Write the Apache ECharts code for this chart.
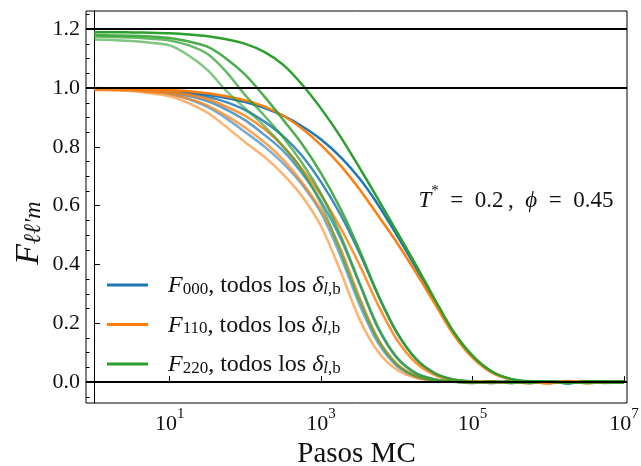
<!DOCTYPE html>
<html>
<head>
<meta charset="utf-8">
<script src="https://cdn.jsdelivr.net/npm/echarts@6/dist/echarts.min.js"></script>
<style>
  html, body { margin: 0; padding: 0; background: #fff; }
  #chart { width: 641px; height: 466px; }
</style>
</head>
<body>
<div id="chart"></div>
<script>
// Monte Carlo steps at which the correlation functions are sampled (quarter decades)
const pasosMC = [1, 1.8, 3.2, 5.6, 10, 18, 32, 56, 100, 180, 320, 560, 1000, 1800, 3200, 5600,
  1e4, 1.8e4, 3.2e4, 5.6e4, 1e5, 1.8e5, 3.2e5, 5.6e5, 1e6, 1.8e6, 3.2e6, 5.6e6, 1e7];

// F000 for the four delta values (slowest first)
const f000_d1 = [0.998, 0.997, 0.995, 0.992, 0.989, 0.984, 0.976, 0.966, 0.952, 0.932, 0.905, 0.870, 0.825, 0.766, 0.693, 0.605, 0.500, 0.388, 0.272, 0.168, 0.087, 0.035, 0.010, 0.002, 0.003, -0.004, 0.003, -0.002, 0.002];
const f000_d2 = [0.999, 0.998, 0.997, 0.994, 0.990, 0.982, 0.970, 0.952, 0.925, 0.885, 0.835, 0.770, 0.680, 0.570, 0.440, 0.298, 0.168, 0.078, 0.029, 0.009, 0.002, -0.003, 0.004, -0.002, 0.003, -0.004, 0.002, 0.003, -0.001];
const f000_d3 = [0.998, 0.997, 0.995, 0.991, 0.985, 0.973, 0.955, 0.927, 0.890, 0.840, 0.785, 0.710, 0.615, 0.490, 0.335, 0.185, 0.082, 0.030, 0.009, 0.002, -0.003, 0.003, -0.002, 0.004, -0.003, 0.002, -0.002, 0.003, 0.001];
const f000_d4 = [0.996, 0.995, 0.993, 0.988, 0.980, 0.962, 0.935, 0.897, 0.850, 0.800, 0.742, 0.672, 0.575, 0.430, 0.265, 0.135, 0.055, 0.018, 0.005, 0.001, 0.003, -0.002, 0.002, -0.003, 0.002, -0.003, 0.003, 0.001, -0.002];

// F110
const f110_d1 = [1.000, 0.999, 0.998, 0.996, 0.993, 0.989, 0.982, 0.972, 0.958, 0.937, 0.905, 0.862, 0.806, 0.737, 0.657, 0.568, 0.475, 0.372, 0.265, 0.163, 0.083, 0.032, 0.009, 0.001, -0.003, 0.004, -0.004, 0.002, -0.002];
const f110_d2 = [0.998, 0.997, 0.995, 0.992, 0.987, 0.977, 0.962, 0.937, 0.905, 0.860, 0.800, 0.725, 0.635, 0.525, 0.400, 0.265, 0.145, 0.065, 0.024, 0.007, 0.001, 0.003, -0.003, 0.002, -0.004, 0.002, 0.004, -0.002, 0.001];
const f110_d3 = [0.995, 0.994, 0.992, 0.987, 0.980, 0.963, 0.940, 0.906, 0.865, 0.815, 0.755, 0.680, 0.585, 0.455, 0.290, 0.150, 0.063, 0.022, 0.006, 0.001, 0.003, -0.003, 0.002, -0.004, 0.003, -0.002, 0.003, -0.001, 0.002];
const f110_d4 = [0.993, 0.992, 0.990, 0.982, 0.972, 0.948, 0.915, 0.868, 0.815, 0.765, 0.705, 0.632, 0.530, 0.378, 0.215, 0.105, 0.042, 0.014, 0.004, 0.002, -0.003, 0.003, -0.002, 0.002, -0.004, 0.003, -0.002, 0.002, 0.001];

// F220
const f220_d1 = [1.190, 1.190, 1.189, 1.188, 1.186, 1.182, 1.176, 1.166, 1.150, 1.122, 1.078, 1.012, 0.930, 0.835, 0.730, 0.624, 0.512, 0.397, 0.280, 0.172, 0.090, 0.036, 0.011, 0.003, 0.001, -0.003, 0.003, 0.001, -0.002];
const f220_d2 = [1.180, 1.179, 1.178, 1.175, 1.170, 1.158, 1.140, 1.100, 1.045, 0.970, 0.890, 0.810, 0.710, 0.590, 0.450, 0.300, 0.170, 0.078, 0.030, 0.009, 0.002, -0.002, 0.003, -0.003, 0.002, 0.001, -0.003, 0.002, 0.003];
const f220_d3 = [1.175, 1.174, 1.172, 1.168, 1.162, 1.145, 1.115, 1.055, 0.975, 0.905, 0.830, 0.745, 0.640, 0.500, 0.340, 0.190, 0.085, 0.030, 0.009, 0.002, -0.002, 0.003, -0.003, 0.002, 0.003, -0.002, 0.002, -0.003, 0.001];
const f220_d4 = [1.165, 1.163, 1.160, 1.154, 1.145, 1.110, 1.060, 0.990, 0.930, 0.870, 0.800, 0.720, 0.605, 0.445, 0.280, 0.145, 0.060, 0.020, 0.005, 0.001, -0.002, 0.003, -0.003, 0.002, 0.001, -0.003, 0.002, 0.003, -0.002];

// Axis ticks
const xTickExponents = [1, 3, 5, 7];
const yTicks = [0.0, 0.2, 0.4, 0.6, 0.8, 1.0, 1.2];
const yMinorTicks = [-0.05, 0.05, 0.1, 0.15, 0.25, 0.3, 0.35, 0.45, 0.5, 0.55, 0.65, 0.7, 0.75,
  0.85, 0.9, 0.95, 1.05, 1.1, 1.15, 1.25];

// Reference levels drawn as horizontal black lines
const refLevels = [0.0, 1.0, 1.2];

const SERIF = "'Liberation Serif', 'DejaVu Serif', serif";
const INK = '#111';
const COLORS = { F000: '#1f77b4', F110: '#ff7f0e', F220: '#2ca02c' };
const SHADE = [1, 0.85, 0.72, 0.6];

const curves = [
  { name: 'F000', vals: f000_d1, shade: 0 },
  { name: 'F000 d2', vals: f000_d2, shade: 1, key: 'F000' },
  { name: 'F000 d3', vals: f000_d3, shade: 2, key: 'F000' },
  { name: 'F000 d4', vals: f000_d4, shade: 3, key: 'F000' },
  { name: 'F110', vals: f110_d1, shade: 0 },
  { name: 'F110 d2', vals: f110_d2, shade: 1, key: 'F110' },
  { name: 'F110 d3', vals: f110_d3, shade: 2, key: 'F110' },
  { name: 'F110 d4', vals: f110_d4, shade: 3, key: 'F110' },
  { name: 'F220', vals: f220_d1, shade: 0 },
  { name: 'F220 d2', vals: f220_d2, shade: 1, key: 'F220' },
  { name: 'F220 d3', vals: f220_d3, shade: 2, key: 'F220' },
  { name: 'F220 d4', vals: f220_d4, shade: 3, key: 'F220' }
];

// The x axis runs in decades: each point sits at log10(steps)
const toPoints = vals => pasosMC.map((p, i) => [Math.log10(p), vals[i]]);

const lineSeries = curves.map(c => ({
  type: 'line',
  name: c.name,
  data: toPoints(c.vals),
  color: COLORS[c.key || c.name],
  showSymbol: false,
  symbol: 'none',
  smooth: 0.3,
  lineStyle: { width: 2.5, opacity: SHADE[c.shade] },
  silent: true,
  z: 2
}));

lineSeries.push({
  type: 'line',
  name: 'niveles',
  data: [],
  silent: true,
  z: 5,
  markLine: {
    silent: true,
    symbol: ['none', 'none'],
    label: { show: false },
    lineStyle: { color: '#000', width: 2, type: 'solid' },
    emphasis: { disabled: true },
    data: refLevels.map(v => ({ yAxis: v }))
  }
});

const chart = echarts.init(document.getElementById('chart'), null, { renderer: 'canvas' });

chart.setOption({
  animation: false,
  backgroundColor: '#fff',
  grid: {
    left: 86, right: 14, top: 11, bottom: 63,
    show: true, borderColor: '#000', borderWidth: 1,
    containLabel: false, outerBoundsMode: 'none'
  },
  xAxis: {
    type: 'value',
    min: -0.105, max: 7.04,
    axisLine: { show: true, lineStyle: { color: '#000', width: 1 } },
    axisTick: { show: true, inside: true, length: 6, customValues: xTickExponents, lineStyle: { color: '#000', width: 1 } },
    axisLabel: {
      customValues: xTickExponents,
      margin: 4,
      formatter: v => '{b|10}{s|' + v + '}',
      rich: {
        b: { fontFamily: SERIF, fontSize: 22, lineHeight: 28, verticalAlign: 'bottom', color: INK },
        s: { fontFamily: SERIF, fontSize: 15, lineHeight: 13, verticalAlign: 'top', color: INK }
      }
    },
    splitLine: { show: false },
    name: 'Pasos MC',
    nameLocation: 'middle',
    nameGap: 33,
    nameTextStyle: { fontFamily: SERIF, fontSize: 29, color: INK }
  },
  yAxis: [
    {
      type: 'value',
      min: -0.071, max: 1.262,
      axisLine: { show: true, lineStyle: { color: '#000', width: 1 } },
      axisTick: { show: true, inside: true, length: 6, customValues: yTicks, lineStyle: { color: '#000', width: 1 } },
      axisLabel: {
        customValues: yTicks,
        margin: 6,
        formatter: v => v.toFixed(1),
        fontFamily: SERIF, fontSize: 22, color: INK
      },
      splitLine: { show: false }
    },
    {
      type: 'value',
      min: -0.071, max: 1.262,
      position: 'left',
      axisLine: { show: false },
      axisTick: { show: true, inside: true, length: 3.5, customValues: yMinorTicks, lineStyle: { color: '#000', width: 1 } },
      axisLabel: { show: false },
      splitLine: { show: false }
    }
  ],
  legend: {
    data: ['F000', 'F110', 'F220'],
    orient: 'vertical',
    left: 107, top: 274,
    padding: 0,
    itemGap: 15.5,
    icon: 'rect',
    itemWidth: 41, itemHeight: 3,
    selectedMode: false,
    formatter: name => '{F|F}{sub|' + name.slice(1) + '}{t|, todos los }{d|δ}{si|l}{sub|,b}',
    textStyle: {
      color: INK,
      rich: {
        F: { fontFamily: SERIF, fontSize: 24, fontStyle: 'italic', lineHeight: 26, padding: [0, 0, 0, 15], verticalAlign: 'bottom' },
        sub: { fontFamily: SERIF, fontSize: 17, lineHeight: 14, verticalAlign: 'bottom' },
        si: { fontFamily: SERIF, fontSize: 17, fontStyle: 'italic', lineHeight: 14, verticalAlign: 'bottom' },
        t: { fontFamily: SERIF, fontSize: 24, lineHeight: 26, verticalAlign: 'bottom' },
        d: { fontFamily: SERIF, fontSize: 24, fontStyle: 'italic', lineHeight: 26, verticalAlign: 'bottom' }
      }
    }
  },
  graphic: [
    {
      type: 'text',
      x: 27, y: 233,
      rotation: Math.PI / 2,
      silent: true,
      style: {
        text: '{F|F}{s|ℓℓ′m}',
        align: 'center', verticalAlign: 'middle',
        fill: INK,
        rich: {
          F: { fontFamily: SERIF, fontSize: 34, fontStyle: 'italic', lineHeight: 38, verticalAlign: 'bottom' },
          s: { fontFamily: SERIF, fontSize: 24, fontStyle: 'italic', lineHeight: 24, verticalAlign: 'bottom' }
        }
      }
    },
    {
      type: 'text',
      x: 516, y: 198,
      silent: true,
      style: {
        text: '{i|T}{p|*}{r|\u2002=\u20020.2\u2009,\u2002}{i|ϕ}{r|\u2002=\u20020.45}',
        align: 'center', verticalAlign: 'middle',
        fill: INK,
        rich: {
          i: { fontFamily: SERIF, fontSize: 23, fontStyle: 'italic', lineHeight: 28, verticalAlign: 'bottom' },
          p: { fontFamily: SERIF, fontSize: 15, lineHeight: 14, verticalAlign: 'top' },
          r: { fontFamily: SERIF, fontSize: 23, lineHeight: 28, verticalAlign: 'bottom' }
        }
      }
    }
  ],
  series: lineSeries
});
</script>
</body>
</html>
